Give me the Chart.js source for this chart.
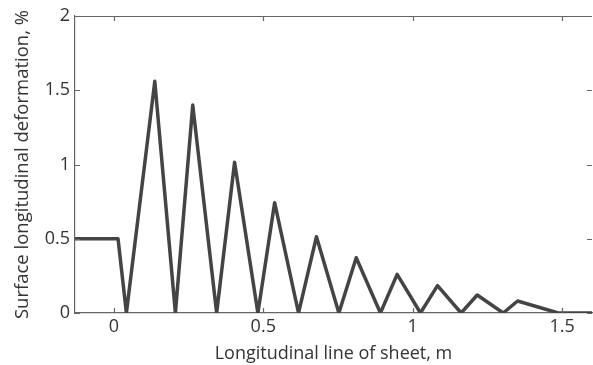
<!DOCTYPE html>
<html>
<head>
<meta charset="utf-8">
<script src="https://cdn.jsdelivr.net/npm/chart.js@4/dist/chart.umd.min.js"></script>
<style>
  html, body { margin: 0; padding: 0; background: #fff; }
  #wrap { width: 593px; height: 365px; }
</style>
</head>
<body>
<div id="wrap"><canvas id="deformChart" width="593" height="365"></canvas></div>
<script>
// position along the sheet (m) and surface deformation (%)
const positions = [-0.13, 0.014, 0.042, 0.137, 0.206, 0.264, 0.344, 0.404, 0.482, 0.538, 0.618,
  0.678, 0.753, 0.811, 0.892, 0.948, 1.026, 1.083, 1.162, 1.216, 1.303, 1.351, 1.487, 1.6];
const deformation = [0.5, 0.5, 0, 1.56, 0, 1.40, 0, 1.015, 0, 0.743, 0,
  0.514, 0, 0.372, 0, 0.26, 0, 0.184, 0, 0.121, 0, 0.081, 0, 0];
const xTicks = [0, 0.5, 1, 1.5];
const yTicks = [0, 0.5, 1, 1.5, 2];

const frameColor = '#666';

// matlab style: ticks drawn inside the box, plus top/right frame
const innerTicks = {
  id: 'innerTicks',
  afterDraw(chart) {
    const { ctx, chartArea: a, scales } = chart;
    const len = 5;
    ctx.save();
    ctx.strokeStyle = frameColor;
    ctx.lineWidth = 1.2;
    ctx.beginPath();
    ctx.moveTo(a.left, a.top + 0.5);
    ctx.lineTo(a.right, a.top + 0.5);
    xTicks.forEach(v => {
      const px = Math.round(scales.x.getPixelForValue(v)) + 0.5;
      ctx.moveTo(px, a.bottom); ctx.lineTo(px, a.bottom - len);
      ctx.moveTo(px, a.top); ctx.lineTo(px, a.top + len);
    });
    yTicks.forEach(v => {
      const py = Math.round(scales.y.getPixelForValue(v)) + 0.5;
      ctx.moveTo(a.left, py); ctx.lineTo(a.left + len, py);
      ctx.moveTo(a.right, py); ctx.lineTo(a.right - len, py);
    });
    ctx.stroke();
    ctx.restore();
  }
};

const ctx = document.getElementById('deformChart').getContext('2d');
new Chart(ctx, {
  type: 'scatter',
  data: {
    datasets: [{
      data: positions.map((x, i) => ({ x, y: deformation[i] })),
      showLine: true,
      borderColor: '#444',
      borderWidth: 3.5,
      borderJoinStyle: 'round',
      pointRadius: 0,
      tension: 0
    }]
  },
  options: {
    responsive: false,
    animation: false,
    layout: { padding: { top: 16, right: 1, left: 0, bottom: 0 } },
    plugins: { legend: { display: false }, tooltip: { enabled: false } },
    scales: {
      x: {
        type: 'linear',
        min: -0.13,
        max: 1.6,
        afterBuildTicks: s => { s.ticks = xTicks.map(v => ({ value: v })); },
        afterFit: s => { s.height = 52; },
        grid: { display: false, drawTicks: false },
        border: { color: frameColor, width: 1.2 },
        ticks: {
          color: '#333', padding: 3,
          font: { family: 'Open Sans', size: 18 },
          callback: v => String(v)
        },
        title: {
          display: true,
          text: 'Longitudinal line of sheet, m',
          color: '#333',
          padding: { top: 0, bottom: 0 },
          font: { family: 'Open Sans', size: 18 }
        }
      },
      y: {
        min: 0,
        max: 2,
        afterBuildTicks: s => { s.ticks = yTicks.map(v => ({ value: v })); },
        afterFit: s => { s.width = 75; },
        grid: { display: false, drawTicks: false },
        border: { color: frameColor, width: 1.2 },
        ticks: {
          color: '#333', padding: 5,
          font: { family: 'Open Sans', size: 18 },
          callback: v => String(v)
        },
        title: {
          display: true,
          text: 'Surface longitudinal deformation, %',
          color: '#333',
          padding: { top: 12, bottom: 0 },
          font: { family: 'Open Sans', size: 18.5 }
        }
      }
    }
  },
  plugins: [innerTicks]
});
</script>
</body>
</html>
